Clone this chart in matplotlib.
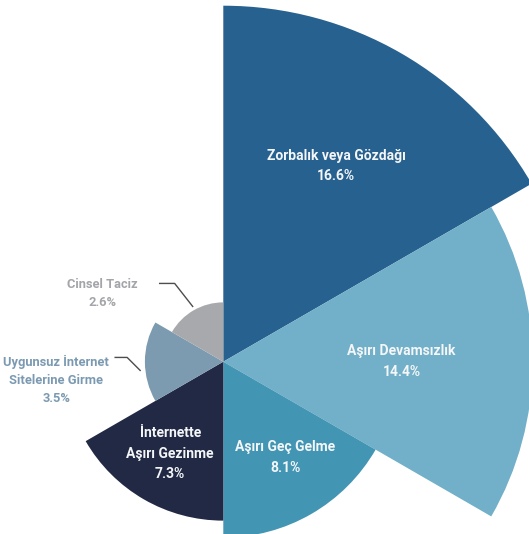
import numpy as np
import matplotlib
matplotlib.use("Agg")
import matplotlib.pyplot as plt
from matplotlib.lines import Line2D
from matplotlib.transforms import IdentityTransform

# data
categories = ["Zorbalık veya Gözdağı", "Aşırı Devamsızlık", "Aşırı Geç Gelme",
              "İnternette\nAşırı Gezinme", "Uygunsuz İnternet\nSitelerine Girme", "Cinsel Taciz"]
values = [16.6, 14.4, 8.1, 7.3, 3.5, 2.6]
colors = ["#27618f", "#72afc8", "#4395b4", "#222944", "#7d9bb0", "#a8a9ac"]

plt.rcParams['font.family'] = ['Roboto', 'DejaVu Sans']

W, H = 529, 534
fig = plt.figure(figsize=(W / 100, H / 100), dpi=100)

# centre of the rose and the pixel radius of the largest wedge
cx, cy = 223.3, H - 361.7
R = 356
base = -0.2
ax = fig.add_axes([(cx - R) / W, (cy - R) / H, 2 * R / W, 2 * R / H], projection='polar')
ax.set_theta_zero_location('N')
ax.set_theta_direction(-1)
ax.set_ylim(base, max(values))
ax.axis('off')

n = len(values)
width = 2 * np.pi / n
thetas = np.arange(n) * width
heights = [v - base for v in values]
ax.bar(thetas, heights, width=width, bottom=base, align='edge', color=colors,
       edgecolor='none', linewidth=0, clip_on=False)

fig.canvas.draw()

# labels inside the big wedges: (angle shift in degrees, fraction of radius)
inside_pos = [(0, 0.63), (0, 0.57), (-3, 0.64), (0, 0.66)]
for i in range(4):
    shift, frac = inside_pos[i]
    mid = thetas[i] + width / 2 + np.radians(shift)
    txt = categories[i] + "\n" + f"{values[i]}%"
    ax.text(mid, values[i] * frac, txt, ha='center', va='center',
            color='#f4f6f8', fontsize=10, fontweight='bold',
            linespacing=1.6, clip_on=False)

# labels outside the small wedges, with leader lines (offsets in pixels)
outside = {
    4: dict(shift=-6, text_off=(-84, -9), line=[(-25, 13), (-13, 13), (0, 0)], color='#7b9ab2'),
    5: dict(shift=1, text_off=(-90, 13), line=[(-33, 23), (-18, 23), (0, 0)], color='#a3a5a9'),
}
for i, o in outside.items():
    ang = thetas[i] + width / 2 + np.radians(o['shift'])
    px, py = ax.transData.transform((ang, values[i] * 1.07))
    fig.add_artist(Line2D([px + dx for dx, dy in o['line']], [py + dy for dx, dy in o['line']],
                          transform=IdentityTransform(), color='#4d4d4d', linewidth=1))
    tx, ty = o['text_off']
    fig.text((px + tx) / W, (py + ty) / H, categories[i] + "\n" + f"{values[i]}%",
             ha='center', va='center', color=o['color'], fontsize=9.3, fontweight='bold',
             linespacing=1.5)

fig.savefig("out.png", dpi=100)
